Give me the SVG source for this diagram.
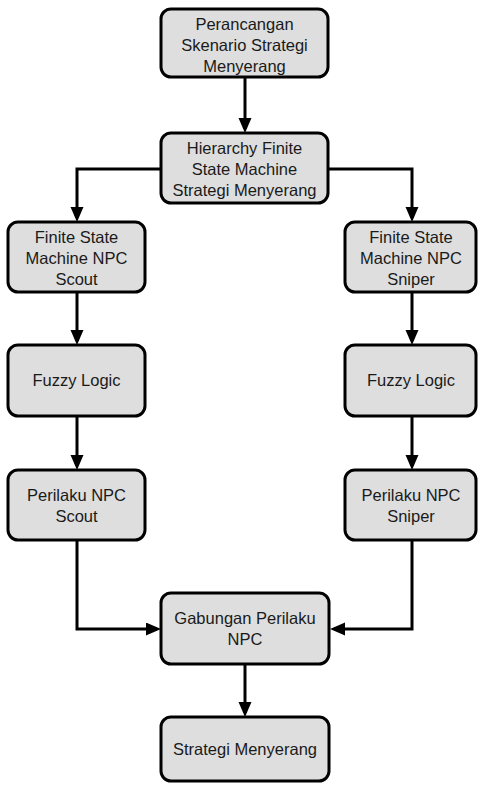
<svg xmlns="http://www.w3.org/2000/svg" width="478" height="785" viewBox="0 0 478 785">
<style>
.box{fill:#dedede;stroke:#000;stroke-width:3}
.t{font-family:"Liberation Sans",Arial,sans-serif;font-size:16.5px;fill:#1a1a1a;text-anchor:middle}
.c{fill:none;stroke:#000;stroke-width:3}
</style>
<defs>
<marker id="ah" markerUnits="userSpaceOnUse" markerWidth="16" markerHeight="14" refX="11" refY="6.5" orient="auto">
<path d="M0,0 L15,6.5 L0,13 z" fill="#000"/>
</marker>
</defs>
<rect width="478" height="785" fill="#fff"/>
<g id="connectors">
<path class="c" d="M245,77 V129" marker-end="url(#ah)"/>
<path class="c" d="M161,169 H77 V218" marker-end="url(#ah)"/>
<path class="c" d="M328,169 H412 V218" marker-end="url(#ah)"/>
<path class="c" d="M77,292 V341" marker-end="url(#ah)"/>
<path class="c" d="M412,292 V341" marker-end="url(#ah)"/>
<path class="c" d="M77,416 V466" marker-end="url(#ah)"/>
<path class="c" d="M412,416 V466" marker-end="url(#ah)"/>
<path class="c" d="M77,540 V629 H157" marker-end="url(#ah)"/>
<path class="c" d="M412,540 V629 H334" marker-end="url(#ah)"/>
<path class="c" d="M245,664 V713" marker-end="url(#ah)"/>
</g>
<g id="n1">
<rect class="box" x="161" y="9" width="167" height="68" rx="10"/>
<text class="t" x="244.5" y="30">Perancangan</text>
<text class="t" x="244.5" y="51">Skenario Strategi</text>
<text class="t" x="244.5" y="72">Menyerang</text>
</g>
<g id="n2">
<rect class="box" x="161" y="133" width="167" height="70" rx="10"/>
<text class="t" x="244.5" y="154">Hierarchy Finite</text>
<text class="t" x="244.5" y="175">State Machine</text>
<text class="t" x="244.5" y="196">Strategi Menyerang</text>
</g>
<g id="n3">
<rect class="box" x="8" y="222" width="137" height="70" rx="10"/>
<text class="t" x="76.5" y="243">Finite State</text>
<text class="t" x="76.5" y="264">Machine NPC</text>
<text class="t" x="76.5" y="285">Scout</text>
</g>
<g id="n4">
<rect class="box" x="345" y="222" width="131" height="70" rx="10"/>
<text class="t" x="411" y="243">Finite State</text>
<text class="t" x="411" y="264">Machine NPC</text>
<text class="t" x="411" y="285">Sniper</text>
</g>
<g id="n5">
<rect class="box" x="8" y="345" width="137" height="71" rx="10"/>
<text class="t" x="76.5" y="386">Fuzzy Logic</text>
</g>
<g id="n6">
<rect class="box" x="345" y="345" width="131" height="71" rx="10"/>
<text class="t" x="411" y="386">Fuzzy Logic</text>
</g>
<g id="n7">
<rect class="box" x="8" y="470" width="137" height="70" rx="10"/>
<text class="t" x="76.5" y="501">Perilaku NPC</text>
<text class="t" x="76.5" y="522">Scout</text>
</g>
<g id="n8">
<rect class="box" x="345" y="470" width="131" height="70" rx="10"/>
<text class="t" x="411" y="501">Perilaku NPC</text>
<text class="t" x="411" y="522">Sniper</text>
</g>
<g id="n9">
<rect class="box" x="161" y="593" width="168" height="71" rx="10"/>
<text class="t" x="245" y="624">Gabungan Perilaku</text>
<text class="t" x="245" y="645">NPC</text>
</g>
<g id="n10">
<rect class="box" x="161" y="717" width="168" height="64" rx="10"/>
<text class="t" x="245" y="755">Strategi Menyerang</text>
</g>
</svg>
